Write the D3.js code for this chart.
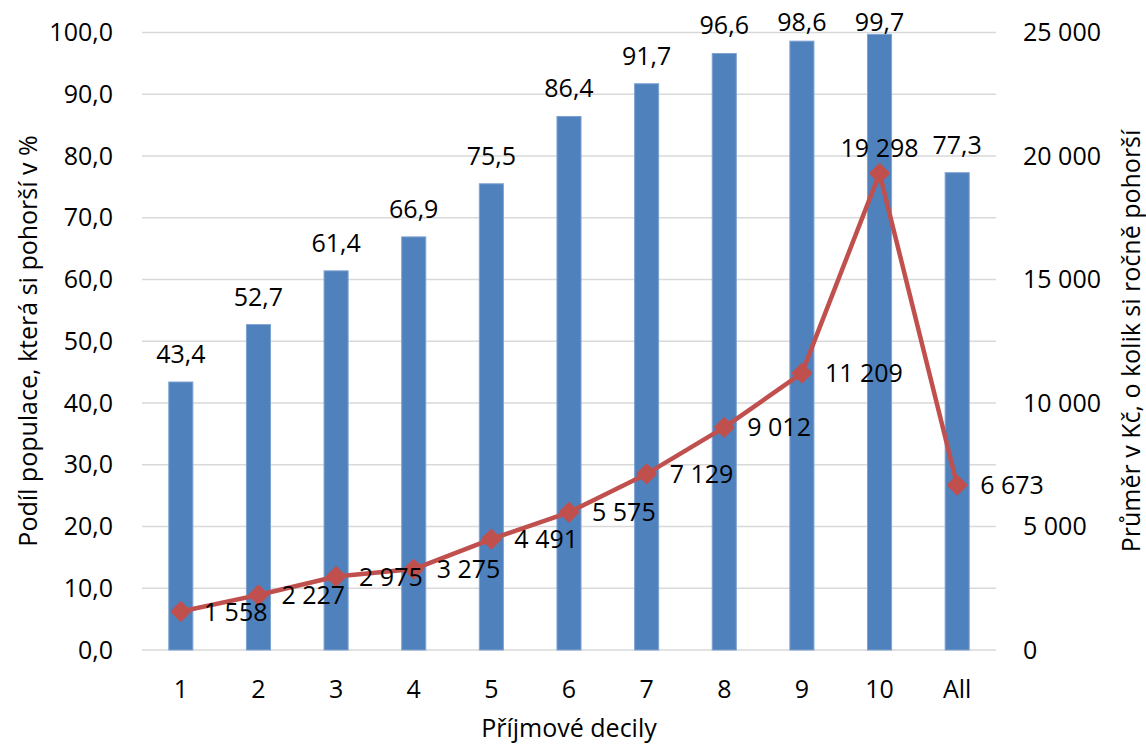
<!DOCTYPE html>
<html>
<head>
<meta charset="utf-8">
<script src="https://cdn.jsdelivr.net/npm/d3@7"></script>
<style>
  html, body { margin: 0; padding: 0; background: #ffffff; }
  svg { display: block; font-family: "Open Sans", sans-serif; }
</style>
</head>
<body>
<svg id="chart" width="1146" height="745"></svg>
<script>
// Income deciles and overall average
const categories = ["1", "2", "3", "4", "5", "6", "7", "8", "9", "10", "All"];
// Share of population that is worse off, in %
const shareWorse = [43.4, 52.7, 61.4, 66.9, 75.5, 86.4, 91.7, 96.6, 98.6, 99.7, 77.3];
// Average annual loss in CZK
const avgLoss = [1558, 2227, 2975, 3275, 4491, 5575, 7129, 9012, 11209, 19298, 6673];
// Axis ticks
const leftTicks = [0, 10, 20, 30, 40, 50, 60, 70, 80, 90, 100];
const rightTicks = [0, 5000, 10000, 15000, 20000, 25000];

const svg = d3.select("#chart");
const plot = { left: 142, right: 996, top: 32.5, bottom: 650 };

const x = d3.scaleBand().domain(categories).range([plot.left, plot.right]).paddingInner(0.69).paddingOuter(0.345);
const xc = d => x(d) + x.bandwidth() / 2;
const yL = d3.scaleLinear().domain([0, 100]).range([plot.bottom, plot.top]);
const yR = d3.scaleLinear().domain([0, 25000]).range([plot.bottom, plot.top]);

const fmtPct = d => d3.format(".1f")(d).replace(".", ",");
const fmtCzk = d => d3.format(",")(d).replace(/,/g, "\u00a0");
const fontSize = 25;

// Gridlines
svg.append("g").selectAll("line").data(leftTicks).join("line")
  .attr("x1", plot.left).attr("x2", plot.right)
  .attr("y1", d => yL(d)).attr("y2", d => yL(d))
  .attr("stroke", "#d9d9d9").attr("stroke-width", 1.5);

// Left axis
const axisL = svg.append("g").attr("transform", `translate(${plot.left},0)`)
  .call(d3.axisLeft(yL).tickValues(leftTicks).tickFormat(fmtPct).tickSize(0).tickPadding(29));
axisL.select(".domain").remove();
axisL.selectAll("text").attr("font-size", fontSize).attr("font-family", "Open Sans").attr("fill", "#000");

// Right axis
const axisR = svg.append("g").attr("transform", `translate(${plot.right},0)`)
  .call(d3.axisRight(yR).tickValues(rightTicks).tickFormat(fmtCzk).tickSize(0).tickPadding(27));
axisR.select(".domain").remove();
axisR.selectAll("text").attr("font-size", fontSize).attr("font-family", "Open Sans").attr("fill", "#000");

// Category axis
const axisB = svg.append("g").attr("transform", `translate(0,${plot.bottom})`)
  .call(d3.axisBottom(x).tickSize(0).tickPadding(30));
axisB.select(".domain").remove();
axisB.selectAll("text").attr("font-size", fontSize).attr("font-family", "Open Sans").attr("fill", "#000");

// Bars
svg.append("g").selectAll("rect").data(shareWorse).join("rect")
  .attr("x", (d, i) => x(categories[i]))
  .attr("width", x.bandwidth())
  .attr("y", d => yL(d))
  .attr("height", d => yL(0) - yL(d))
  .attr("fill", "#4f81bd")
  .attr("stroke", "#7ea3d2").attr("stroke-width", 1);

// Bar value labels
svg.append("g").selectAll("text").data(shareWorse).join("text")
  .attr("x", (d, i) => xc(categories[i]))
  .attr("y", d => Math.max(yL(d) - 19, 31))
  .attr("text-anchor", "middle")
  .attr("font-size", fontSize)
  .text(fmtPct);

// Line
const line = d3.line().x((d, i) => xc(categories[i])).y(d => yR(d));
svg.append("path").datum(avgLoss)
  .attr("d", line)
  .attr("fill", "none").attr("stroke", "#c0504d").attr("stroke-width", 4.5)
  .attr("stroke-linejoin", "round");

// Markers
const diamond = d3.symbol().type(d3.symbolDiamond2).size(190);
svg.append("g").selectAll("path").data(avgLoss).join("path")
  .attr("transform", (d, i) => `translate(${xc(categories[i])},${yR(d)})`)
  .attr("d", diamond)
  .attr("fill", "#c0504d").attr("stroke", "#c0504d").attr("stroke-width", 3)
  .attr("stroke-linejoin", "round");

// Line value labels
const peak = d3.maxIndex(avgLoss);
svg.append("g").selectAll("text").data(avgLoss).join("text")
  .attr("x", (d, i) => i === peak ? xc(categories[i]) : xc(categories[i]) + 23)
  .attr("y", (d, i) => i === peak ? yR(d) - 16 : yR(d) + 9)
  .attr("text-anchor", (d, i) => i === peak ? "middle" : "start")
  .attr("font-size", fontSize)
  .text(fmtCzk);

// Axis titles
svg.append("text")
  .attr("x", (plot.left + plot.right) / 2).attr("y", 737)
  .attr("text-anchor", "middle").attr("font-size", fontSize)
  .text("Příjmové decily");

svg.append("text")
  .attr("transform", `translate(37,341) rotate(-90)`)
  .attr("text-anchor", "middle").attr("font-size", fontSize)
  .text("Podíl populace, která si pohorší v %");

svg.append("text")
  .attr("transform", `translate(1140,341) rotate(-90)`)
  .attr("text-anchor", "middle").attr("font-size", fontSize)
  .text("Průměr v Kč, o kolik si ročně pohorší");
</script>
</body>
</html>
